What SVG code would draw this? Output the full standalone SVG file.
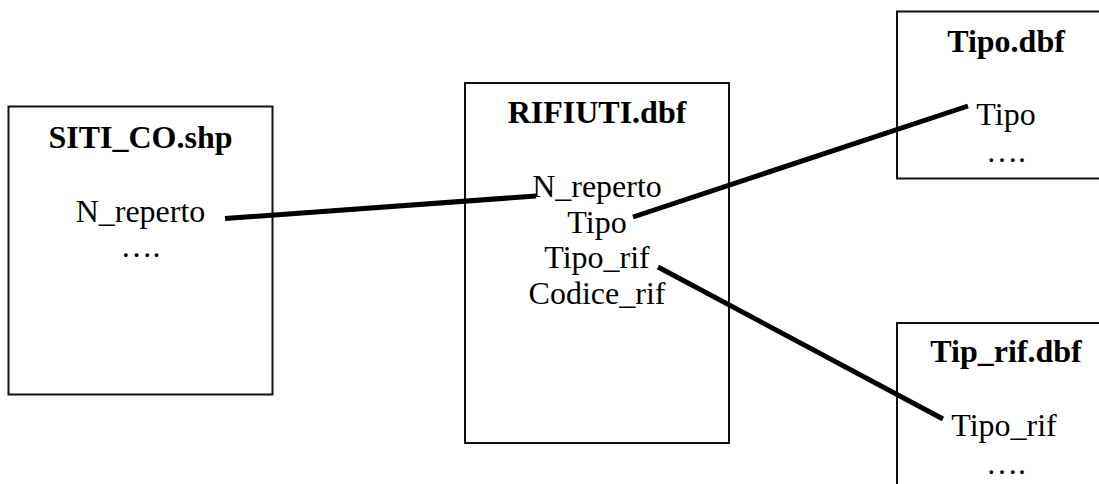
<svg xmlns="http://www.w3.org/2000/svg" width="1099" height="484" viewBox="0 0 1099 484">
<style>
.box{fill:#fff;stroke:#111;stroke-width:2}
.t{font-family:"Liberation Serif","Times New Roman",serif;font-size:32px;fill:#000;text-anchor:middle}
.b{font-weight:bold}
.c{stroke:#000;stroke-width:5;stroke-linecap:butt;fill:none}
</style>
<rect width="1099" height="484" fill="#fff"/>
<g id="siti">
<rect class="box" x="8.5" y="106.5" width="264" height="288"/>
<text class="t b" x="140.5" y="148">SITI_CO.shp</text>
<text class="t" x="140.5" y="222">N_reperto</text>
<text class="t" x="140.5" y="257">….</text>
</g>
<g id="rifiuti">
<rect class="box" x="465" y="83" width="264" height="360"/>
<text class="t b" x="597" y="123">RIFIUTI.dbf</text>
<text class="t" x="597" y="197">N_reperto</text>
<text class="t" x="597" y="232.5">Tipo</text>
<text class="t" x="597" y="268">Tipo_rif</text>
<text class="t" x="597" y="303.5">Codice_rif</text>
</g>
<g id="tipo">
<rect class="box" x="897" y="11.5" width="230" height="167"/>
<text class="t b" x="1006" y="52">Tipo.dbf</text>
<text class="t" x="1006" y="125">Tipo</text>
<text class="t" x="1006" y="162">….</text>
</g>
<g id="tiprif">
<rect class="box" x="897" y="323" width="230" height="200"/>
<text class="t b" x="1006" y="362">Tip_rif.dbf</text>
<text class="t" x="1004" y="436">Tipo_rif</text>
<text class="t" x="1006" y="474">….</text>
</g>
<g id="connectors">
<line class="c" x1="225" y1="218.5" x2="536" y2="196"/>
<line class="c" x1="633" y1="217" x2="968" y2="106"/>
<line class="c" x1="658" y1="267" x2="943" y2="419"/>
</g>
</svg>
